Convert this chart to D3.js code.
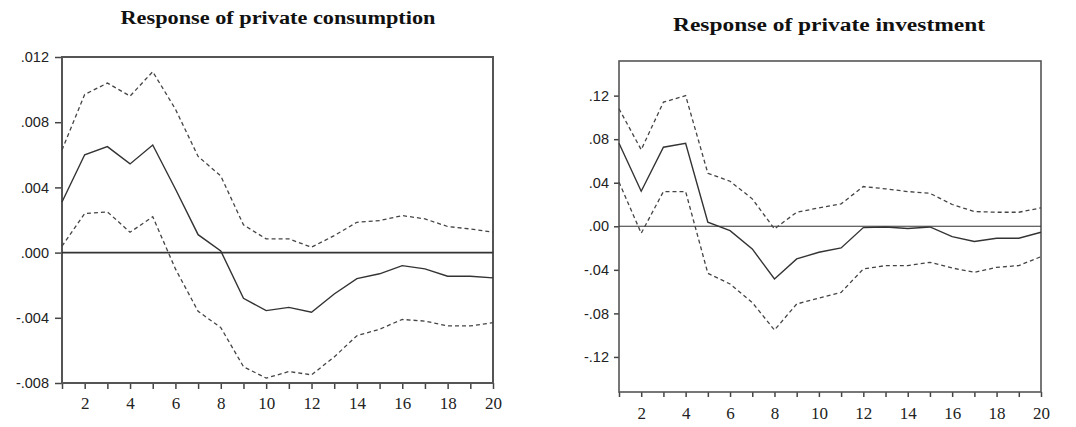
<!DOCTYPE html>
<html><head><meta charset="utf-8">
<script src="https://cdn.jsdelivr.net/npm/d3@7"></script>
<style>body{margin:0;background:#fff}svg{display:block}</style>
</head><body>
<svg id="c" width="1076" height="427"></svg>
<script>
const periods = d3.range(1, 21);
const xTickLabels = [2,4,6,8,10,12,14,16,18,20];

// Response of private consumption
const consTitle = "Response of private consumption";
const consMid   = [0.0031,0.0060,0.0065,0.00544,0.0066,0.0039,0.0011,0.0001,-0.0028,-0.00356,-0.00336,-0.00366,-0.00254,-0.0016,-0.0013,-0.0008,-0.0010,-0.00145,-0.00145,-0.00155];
const consUp    = [0.0063,0.0097,0.0104,0.0096,0.0111,0.0088,0.0059,0.0047,0.0017,0.00084,0.00084,0.00033,0.00104,0.00186,0.00196,0.00227,0.00207,0.0016,0.00145,0.00125];
const consLo    = [0.0004,0.0024,0.0025,0.00125,0.0022,-0.0010,-0.0036,-0.0046,-0.0070,-0.0077,-0.0073,-0.0075,-0.0064,-0.0051,-0.0047,-0.0041,-0.0042,-0.0045,-0.0045,-0.0043];
const consYTicks = [0.012,0.008,0.004,0.000,-0.004,-0.008];
const consYLabels = [".012",".008",".004",".000","-.004","-.008"];

// Response of private investment
const invTitle = "Response of private investment";
const invMid = [0.0763,0.0322,0.0726,0.0763,0.0037,-0.004,-0.0208,-0.0484,-0.030,-0.0239,-0.0199,-0.0012,-0.0006,-0.0021,-0.0006,-0.0095,-0.014,-0.011,-0.011,-0.0055];
const invUp  = [0.108,0.0703,0.114,0.120,0.0487,0.0414,0.0252,-0.0024,0.0129,0.0169,0.0206,0.0365,0.0344,0.0319,0.0303,0.020,0.0135,0.0129,0.0129,0.0169];
const invLo  = [0.0405,-0.0064,0.0319,0.0319,-0.0432,-0.053,-0.070,-0.0953,-0.0714,-0.0659,-0.0607,-0.0392,-0.0361,-0.0361,-0.0331,-0.0383,-0.0423,-0.0377,-0.0361,-0.0279];
const invYTicks = [0.12,0.08,0.04,0.00,-0.04,-0.08,-0.12];
const invYLabels = [".12",".08",".04",".00","-.04","-.08","-.12"];

const svg = d3.select("#c");

function panel(cfg){
  const g = svg.append("g");
  const x = d3.scaleLinear().domain([1,20]).range([cfg.left, cfg.right]);
  const y = d3.scaleLinear().domain(cfg.ydom).range([cfg.bottom, cfg.top]);

  // title
  g.append("text").attr("x", cfg.titleX).attr("y", cfg.titleY)
    .attr("text-anchor","middle")
    .attr("font-family","'Liberation Serif', 'DejaVu Serif', serif")
    .attr("font-weight","bold").attr("font-size", 18)
    .attr("textLength", cfg.titleW).attr("lengthAdjust","spacingAndGlyphs")
    .attr("fill","#111").text(cfg.title);

  // y axis
  const ya = d3.axisLeft(y).tickValues(cfg.yTicks)
    .tickFormat((d,i)=>cfg.yLabels[i]).tickSize(cfg.ytick).tickPadding(cfg.ypad);
  const yg = g.append("g").attr("transform",`translate(${cfg.left},0)`).call(ya);
  yg.select(".domain").remove();
  yg.selectAll("line").attr("stroke","#444").attr("stroke-width",1.5);
  yg.selectAll("text").attr("font-family","'Liberation Sans', Arial, sans-serif")
    .attr("font-size",14.5).attr("fill","#222");

  // x axis
  const xa = d3.axisBottom(x).tickValues(periods)
    .tickFormat(d => xTickLabels.includes(d) ? String(d) : "")
    .tickSize(cfg.xtick).tickPadding(cfg.xpad);
  const xg = g.append("g").attr("transform",`translate(0,${cfg.bottom})`).call(xa);
  xg.select(".domain").remove();
  xg.selectAll("line").attr("stroke","#444").attr("stroke-width",1.5);
  xg.selectAll("text").attr("font-family","'Liberation Serif', 'DejaVu Serif', serif")
    .attr("font-size",17).attr("fill","#222");

  // frame
  g.append("rect").attr("x",cfg.left).attr("y",cfg.top)
    .attr("width",cfg.right-cfg.left).attr("height",cfg.bottom-cfg.top)
    .attr("fill","none").attr("stroke","#555").attr("stroke-width",cfg.frameW);

  // zero line
  g.append("line").attr("x1",cfg.left).attr("x2",cfg.right)
    .attr("y1",y(0)).attr("y2",y(0))
    .attr("stroke","#333").attr("stroke-width",cfg.zeroW);

  const line = d3.line().x((d,i)=>x(periods[i])).y(d=>y(d));
  g.append("path").datum(cfg.up).attr("d",line).attr("fill","none")
    .attr("stroke","#444").attr("stroke-width",1.3).attr("stroke-dasharray","4,3");
  g.append("path").datum(cfg.lo).attr("d",line).attr("fill","none")
    .attr("stroke","#444").attr("stroke-width",1.3).attr("stroke-dasharray","4,3");
  g.append("path").datum(cfg.mid).attr("d",line).attr("fill","none")
    .attr("stroke","#333").attr("stroke-width",1.4);
}

panel({title:consTitle, titleX:278, titleY:24, titleW:315,
  left:62, right:493, top:57, bottom:383, ydom:[-0.008,0.012],
  yTicks:consYTicks, yLabels:consYLabels, ytick:7, ypad:6, xtick:6, xpad:8,
  frameW:2, zeroW:1.6, mid:consMid, up:consUp, lo:consLo});

panel({title:invTitle, titleX:829, titleY:31, titleW:312,
  left:619, right:1041, top:61, bottom:392, ydom:[-0.1522,0.1518],
  yTicks:invYTicks, yLabels:invYLabels, ytick:5, ypad:5, xtick:5, xpad:10,
  frameW:1.6, zeroW:1.1, mid:invMid, up:invUp, lo:invLo});
</script>
</body></html>
